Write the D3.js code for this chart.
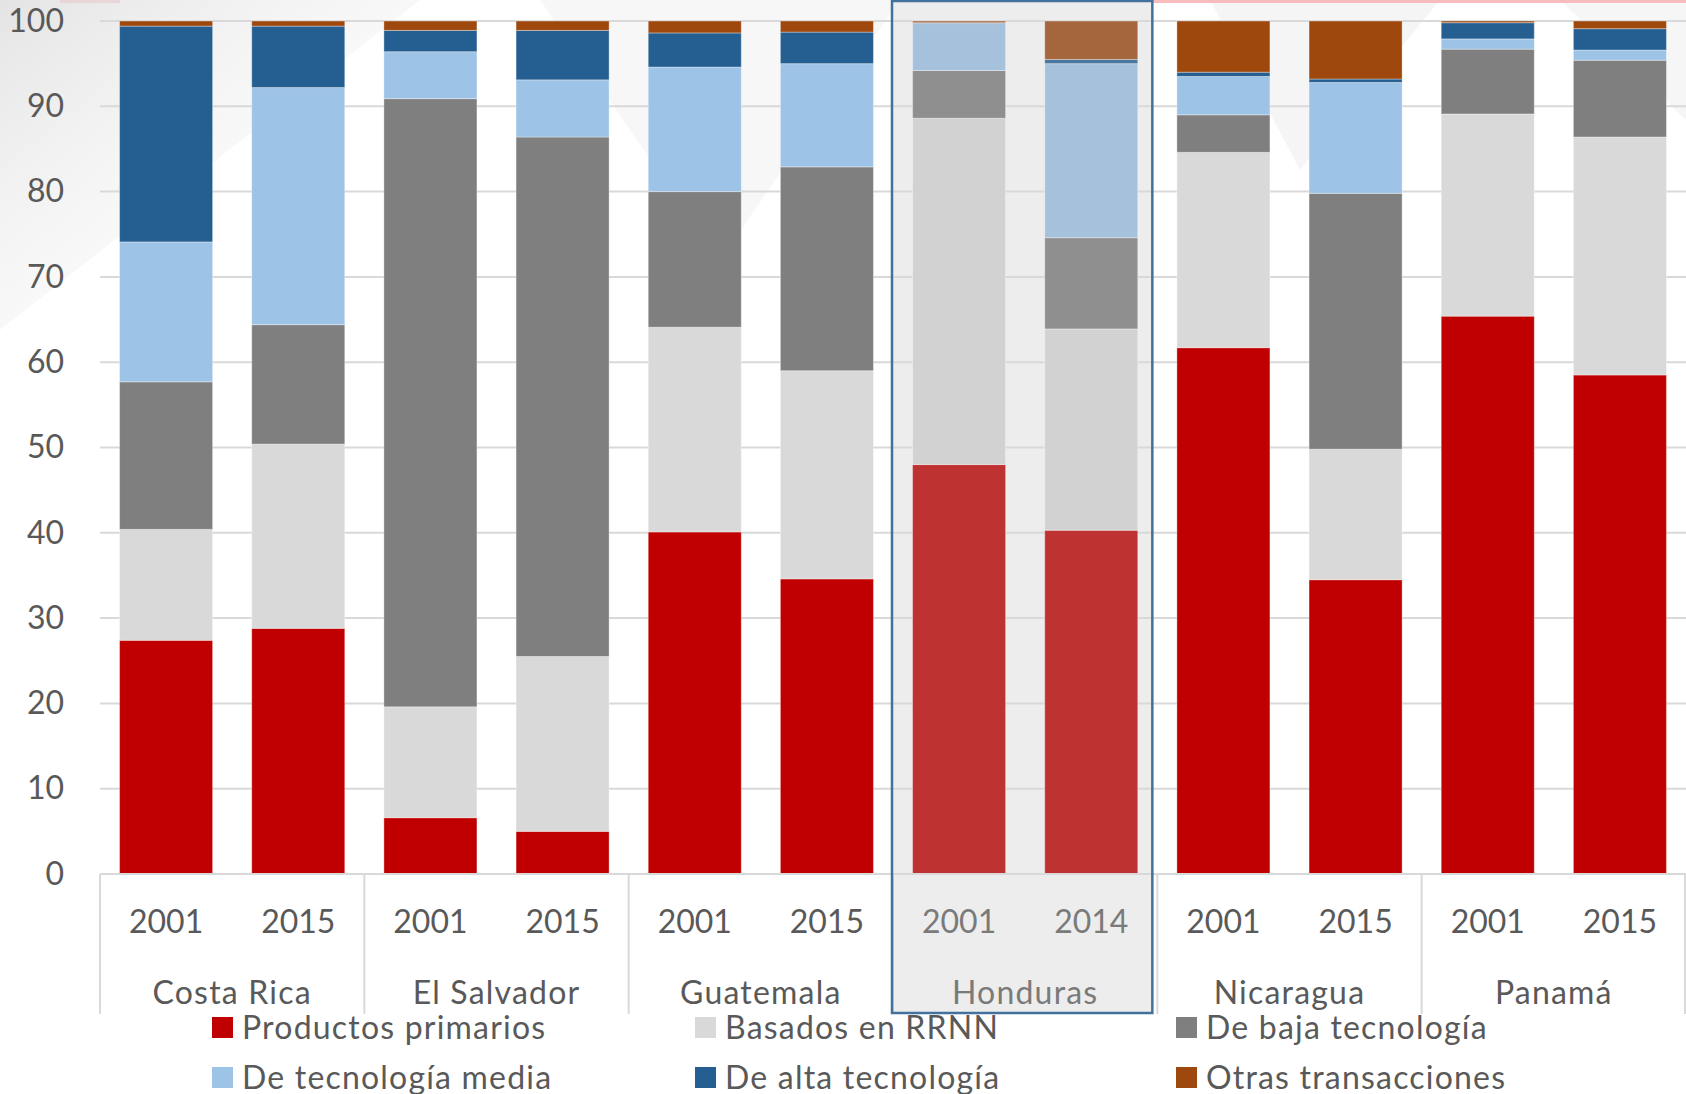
<!DOCTYPE html>
<html lang="es">
<head>
    <meta charset="UTF-8">
    <title>Estructura de exportaciones por intensidad tecnológica</title>
    <script src="https://d3js.org/d3.v7.min.js"></script>
    <style>
        body {
            margin: 0;
            background-color: #fff;
            font-family: Lato, "Open Sans", sans-serif;
        }
        svg text {
            fill: #595959;
        }
    </style>
</head>
<body>
    <svg id="chart" width="1686" height="1094"></svg>
    <script>
        const countries = ["Costa Rica", "El Salvador", "Guatemala", "Honduras", "Nicaragua", "Panamá"];
        const years = [["2001", "2015"], ["2001", "2015"], ["2001", "2015"], ["2001", "2014"], ["2001", "2015"], ["2001", "2015"]];
        const seriesNames = ["Productos primarios", "Basados en RRNN", "De baja tecnología",
            "De tecnología media", "De alta tecnología", "Otras transacciones"];

        // one value per bar, order: CR01, CR15, ES01, ES15, GU01, GU15, HO01, HO14, NI01, NI15, PA01, PA15
        const primarios = [27.4, 28.8, 6.6, 5.0, 40.1, 34.6, 48.0, 40.3, 61.7, 34.5, 65.4, 58.5];
        const rrnn      = [13.0, 21.6, 13.0, 20.5, 24.0, 24.4, 40.6, 23.6, 22.9, 15.3, 23.7, 27.9];
        const baja      = [17.3, 14.0, 71.3, 60.9, 15.9, 23.9, 5.6, 10.7, 4.4, 30.0, 7.6, 9.0];
        const media     = [16.4, 27.8, 5.5, 6.7, 14.6, 12.1, 5.5, 20.4, 4.5, 13.0, 1.2, 1.2];
        const alta      = [25.3, 7.2, 2.5, 5.8, 4.0, 3.7, 0.1, 0.5, 0.5, 0.4, 1.9, 2.5];
        const otras     = [0.6, 0.6, 1.1, 1.1, 1.4, 1.3, 0.2, 4.5, 6.0, 6.8, 0.2, 0.9];
        const yTicks = [0, 10, 20, 30, 40, 50, 60, 70, 80, 90, 100];

        const seriesValues = [primarios, rrnn, baja, media, alta, otras];
        const colors = ["#c00000", "#d9d9d9", "#7f7f7f", "#9dc3e6", "#255e91", "#9e480e"];
        // Honduras is highlighted, its bars are washed out
        const colorsHi = ["#bf3232", "#d2d2d2", "#8f8f8f", "#a6c1dc", "#4a76a0", "#a5653d"];
        const highlight = "Honduras";

        const svg = d3.select("#chart");
        const plotLeft = 100, plotRight = 1686, plotTop = 21, plotBottom = 874;

        // faint background decoration
        const defs = svg.append("defs");
        const grad = defs.append("linearGradient").attr("id", "bgfade")
            .attr("x1", "0").attr("y1", "0").attr("x2", "1").attr("y2", "1");
        grad.append("stop").attr("offset", "0%").attr("stop-color", "#e4e4e4");
        grad.append("stop").attr("offset", "100%").attr("stop-color", "#ffffff").attr("stop-opacity", 0);
        svg.append("path").attr("d", "M0,0 L420,0 L0,330 Z").attr("fill", "url(#bgfade)");
        svg.append("path").attr("d", "M540,0 L900,0 L720,260 Z").attr("fill", "#f4f4f4").attr("opacity", 0.7);
        svg.append("path").attr("d", "M1210,0 L1440,0 L1300,170 Z").attr("fill", "#f2f2f2").attr("opacity", 0.8);
        svg.append("path").attr("d", "M1560,0 L1686,0 L1686,120 Z").attr("fill", "#f4f4f4").attr("opacity", 0.8);
        svg.append("rect").attr("x", 1083).attr("y", 0).attr("width", 603).attr("height", 3).attr("fill", "#f9bcbc");
        svg.append("rect").attr("x", 60).attr("y", 0).attr("width", 60).attr("height", 3).attr("fill", "#e8c8cc").attr("opacity", 0.6);

        const x0 = d3.scaleBand().domain(countries).range([plotLeft, plotRight]);
        const x1 = d3.scaleBand().domain([0, 1]).range([0, x0.bandwidth()])
            .paddingInner(0.296).paddingOuter(0.148);
        const y = d3.scaleLinear().domain([0, 100]).range([plotBottom, plotTop]);

        // highlight box fill
        const hx = x0(highlight);
        svg.append("rect")
            .attr("x", hx - 1).attr("y", 1)
            .attr("width", x0.bandwidth() - 4).attr("height", 1012)
            .attr("fill", "#ededed");

        // gridlines
        svg.append("g").selectAll("line")
            .data(yTicks.filter(d => d > 0))
            .join("line")
            .attr("x1", plotLeft).attr("x2", plotRight)
            .attr("y1", d => y(d)).attr("y2", d => y(d))
            .attr("stroke", "#d9d9d9").attr("stroke-width", 2);

        // y axis labels
        const yAxis = svg.append("g")
            .attr("transform", `translate(${plotLeft}, 0)`)
            .call(d3.axisLeft(y).tickValues(yTicks).tickSize(0).tickPadding(36));
        yAxis.select(".domain").remove();
        yAxis.selectAll("text")
            .attr("font-family", "Lato, sans-serif")
            .attr("font-size", 32)
            .style("fill", "#595959");

        // stacked bars
        const bars = [];
        countries.forEach((c, ci) => {
            [0, 1].forEach(j => {
                const idx = ci * 2 + j;
                let cum = 0;
                seriesValues.forEach((vals, si) => {
                    bars.push({ country: c, slot: j, series: si, y0: cum, y1: cum + vals[idx] });
                    cum += vals[idx];
                });
            });
        });

        svg.append("g").selectAll("rect")
            .data(bars)
            .join("rect")
            .attr("x", d => x0(d.country) + x1(d.slot))
            .attr("width", x1.bandwidth())
            .attr("y", d => y(d.y1))
            .attr("height", d => Math.max(0, y(d.y0) - y(d.y1)))
            .attr("fill", d => d.country === highlight ? colorsHi[d.series] : colors[d.series])
            .attr("stroke", "#ffffff").attr("stroke-opacity", 0.35).attr("stroke-width", 1);

        // category axis
        const axis = svg.append("g");
        axis.append("line")
            .attr("x1", plotLeft).attr("x2", plotRight)
            .attr("y1", plotBottom).attr("y2", plotBottom)
            .attr("stroke", "#d9d9d9").attr("stroke-width", 2);
        const dividers = countries.map(c => x0(c)).concat([plotRight - 1]);
        axis.selectAll("line.div")
            .data(dividers)
            .join("line")
            .attr("class", "div")
            .attr("x1", d => d).attr("x2", d => d)
            .attr("y1", plotBottom).attr("y2", 1014)
            .attr("stroke", "#d9d9d9").attr("stroke-width", 2);

        countries.forEach((c, ci) => {
            const col = c === highlight ? "#7a7a7a" : "#595959";
            [0, 1].forEach(j => {
                axis.append("text")
                    .attr("x", x0(c) + x1(j) + x1.bandwidth() / 2)
                    .attr("y", 933)
                    .attr("text-anchor", "middle")
                    .attr("font-size", 32)
                    .style("fill", col)
                    .text(years[ci][j]);
            });
            axis.append("text")
                .attr("x", x0(c) + x0.bandwidth() / 2)
                .attr("y", 1004)
                .attr("text-anchor", "middle")
                .attr("font-size", 32)
                .attr("letter-spacing", 1.2)
                .style("fill", col)
                .text(c);
        });

        // highlight box border
        svg.append("rect")
            .attr("x", hx - 1).attr("y", 1)
            .attr("width", x0.bandwidth() - 4).attr("height", 1012)
            .attr("fill", "none")
            .attr("stroke", "#41719c").attr("stroke-width", 2.5);

        // legend
        const legX = [212, 695, 1176];
        const legY = [1017, 1067];
        const legend = svg.append("g");
        seriesNames.forEach((name, i) => {
            const g = legend.append("g")
                .attr("transform", `translate(${legX[i % 3]}, ${legY[Math.floor(i / 3)]})`);
            g.append("rect").attr("width", 21).attr("height", 21).attr("fill", colors[i]);
            g.append("text")
                .attr("x", 30).attr("y", 22)
                .attr("font-size", 32)
                .attr("letter-spacing", 1.2)
                .text(name);
        });
    </script>
</body>
</html>
